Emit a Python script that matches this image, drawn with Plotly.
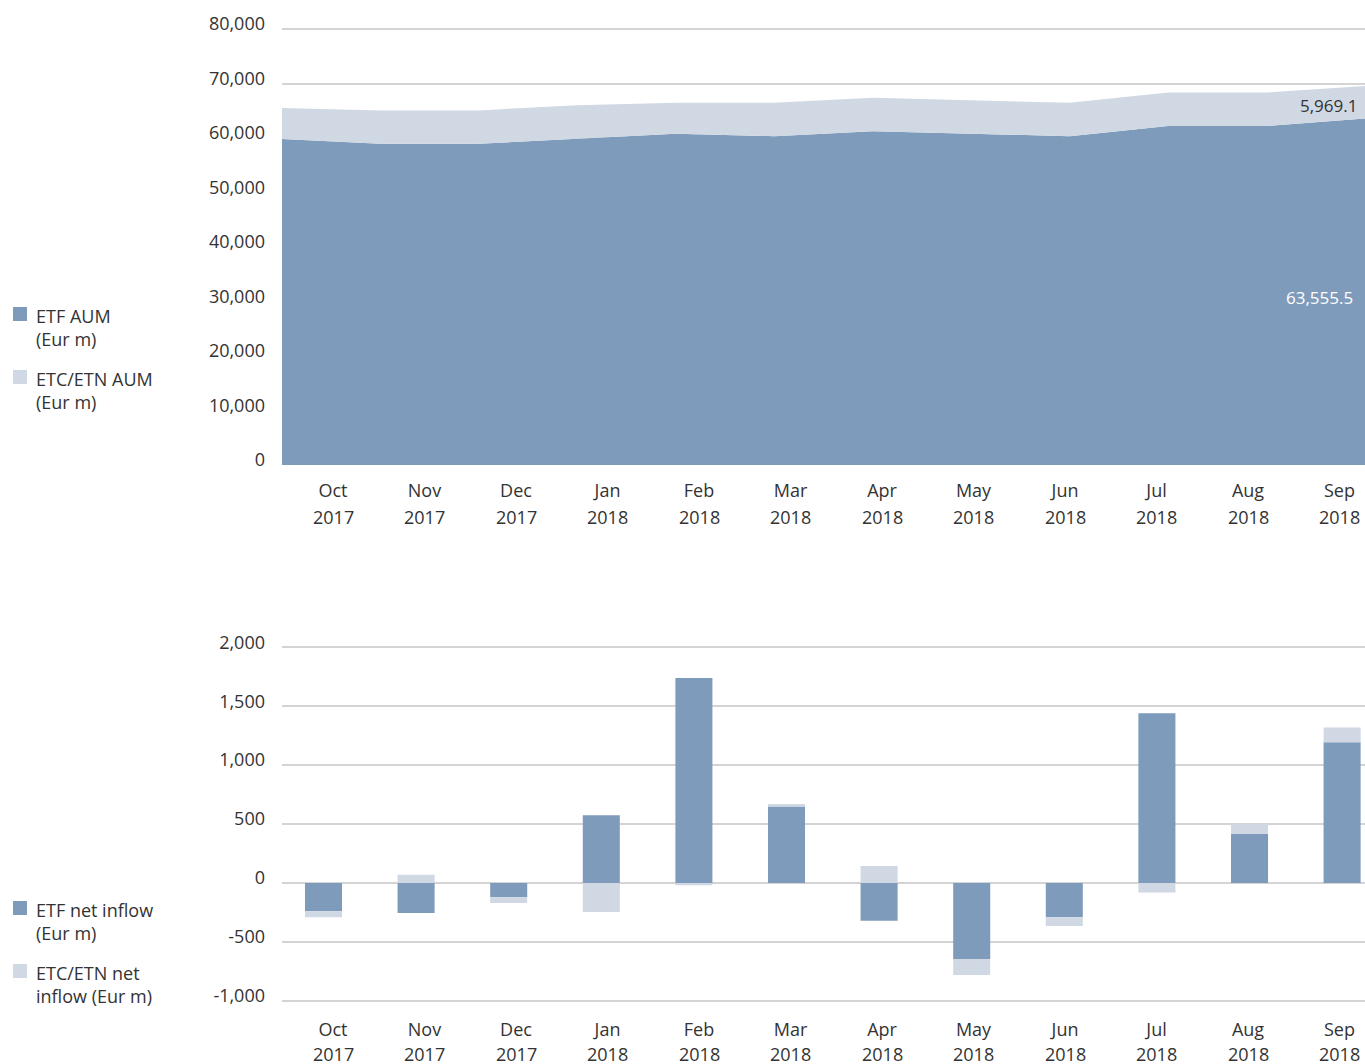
import plotly.graph_objects as go

months = ["Oct", "Nov", "Dec", "Jan", "Feb", "Mar", "Apr", "May", "Jun", "Jul", "Aug", "Sep"]
years = ["2017", "2017", "2017", "2018", "2018", "2018", "2018", "2018", "2018", "2018", "2018", "2018"]

etf_aum = [59800, 58950, 58950, 59850, 60770, 60340, 61260, 60770, 60340, 62180, 62180, 63555.5]
etc_aum = [5690, 6110, 6110, 6180, 5690, 6120, 6110, 6180, 6120, 6170, 6170, 5969.1]

etf_flow = [-240, -255, -120, 575, 1740, 650, -320, -645, -290, 1440, 415, 1195]
etc_flow = [-50, 70, -50, -245, -20, 20, 145, -135, -75, -80, 85, 125]

aum_ticks = [0, 10000, 20000, 30000, 40000, 50000, 60000, 70000, 80000]
flow_ticks = [-1000, -500, 0, 500, 1000, 1500, 2000]

C_ETF = "#7f9bbb"
C_ETC = "#cfd8e3"
GRID = "#d4d4d4"
TXT = "#333333"
FONT = "Open Sans"

W, H = 1365, 1064


def py(p):
    return (H - p) / H


def fmt(v):
    return f"{v:,d}"


fig = go.Figure()
idx = list(range(len(months)))

fig.add_trace(go.Scatter(x=idx, y=etf_aum, mode="lines", line=dict(width=0, color=C_ETF),
                         fillcolor=C_ETF, stackgroup="aum",
                         xaxis="x", yaxis="y", showlegend=False, hoverinfo="skip"))
fig.add_trace(go.Scatter(x=idx, y=etc_aum, mode="lines", line=dict(width=0, color=C_ETC),
                         fillcolor=C_ETC, stackgroup="aum",
                         xaxis="x", yaxis="y", showlegend=False, hoverinfo="skip"))

fig.add_trace(go.Bar(x=idx, y=etf_flow, marker=dict(color=C_ETF, line=dict(width=0)), width=0.4,
                     xaxis="x2", yaxis="y2", showlegend=False))
fig.add_trace(go.Bar(x=idx, y=etc_flow, marker=dict(color=C_ETC, line=dict(width=0)), width=0.4,
                     xaxis="x2", yaxis="y2", showlegend=False))

x0_px, x1_px = 282, 1365
top_step = (x1_px - x0_px) / 11
lab0, lab_step = 333, 91.5
top_tickvals = [(lab0 + lab_step * i - x0_px) / top_step for i in idx]

b0, bstep = 323.5, 92.6
bot_range = [(x0_px - b0) / bstep, (x1_px - b0) / bstep]
bot_tickvals = [(lab0 + lab_step * i - b0) / bstep for i in idx]

axis_font = dict(family=FONT, size=18, color=TXT)

top_y_dom = [py(465), py(465 - 80600 * 436 / 80000)]
bot_px_per = 0.11787
bot_y_dom = [py(883 + 1050 * bot_px_per), py(883 - 2050 * bot_px_per)]

common_x = dict(showgrid=False, zeroline=False, showline=False, ticks="", tickfont=axis_font,
                automargin=False)
common_y = dict(showgrid=True, gridcolor=GRID, gridwidth=2, zeroline=False, showline=False,
                ticks="", tickfont=axis_font, ticklabelstandoff=16, ticklabelshift=-5,
                automargin=False, layer="below traces")

fig.update_layout(
    width=W, height=H,
    margin=dict(l=0, r=0, t=0, b=0, autoexpand=False),
    paper_bgcolor="white", plot_bgcolor="white",
    barmode="relative",
    font=dict(family=FONT, size=18, color=TXT),
    xaxis=dict(domain=[x0_px / W, 1], range=[0, 11], tickvals=top_tickvals, ticktext=months,
               anchor="y", ticklabelstandoff=13, **common_x),
    yaxis=dict(domain=top_y_dom, range=[0, 80600], tickvals=aum_ticks,
               ticktext=[fmt(v) for v in aum_ticks], anchor="x", **common_y),
    xaxis2=dict(domain=[x0_px / W, 1], range=bot_range, tickvals=bot_tickvals, ticktext=months,
                anchor="y2", ticklabelstandoff=10, **common_x),
    yaxis2=dict(domain=bot_y_dom, range=[-1050, 2050], tickvals=flow_ticks,
                ticktext=[fmt(v) for v in flow_ticks], anchor="x2", **common_y),
    showlegend=False,
)

# year line of the category labels
for i in idx:
    fig.add_annotation(x=top_tickvals[i], xref="x", y=py(517), yref="paper", text=years[i],
                       showarrow=False, yanchor="middle", font=axis_font)
    fig.add_annotation(x=bot_tickvals[i], xref="x2", y=py(1054), yref="paper", text=years[i],
                       showarrow=False, yanchor="middle", font=axis_font)

# value labels on last point
fig.add_annotation(x=11, y=etf_aum[-1] + etc_aum[-1] / 2, xref="x", yref="y", yshift=-3,
                   text=f"{etc_aum[-1]:,.1f}", showarrow=False, xanchor="right", xshift=-6,
                   font=dict(family=FONT, size=17, color=TXT))
fig.add_annotation(x=11, y=etf_aum[-1] / 2, xref="x", yref="y", yshift=-6,
                   text=f"{etf_aum[-1]:,.1f}", showarrow=False, xanchor="right", xshift=-10,
                   font=dict(family=FONT, size=17, color="white"))

# legends
legend_items = [
    (314, C_ETF, "ETF AUM<br>(Eur m)"),
    (377, C_ETC, "ETC/ETN AUM<br>(Eur m)"),
    (908, C_ETF, "ETF net inflow<br>(Eur m)"),
    (971, C_ETC, "ETC/ETN net<br>inflow (Eur m)"),
]
for yc, col, txt in legend_items:
    fig.add_shape(type="rect", xref="paper", yref="paper",
                  x0=13 / W, x1=27 / W, y0=py(yc + 7), y1=py(yc - 7),
                  fillcolor=col, line=dict(width=0))
    fig.add_annotation(xref="paper", yref="paper", x=34 / W, y=py(yc - 12),
                       text=txt, showarrow=False, xanchor="left", yanchor="top", align="left",
                       font=dict(family=FONT, size=18, color=TXT))

fig.write_html("out.html", config={"displayModeBar": False},
               post_script="document.body.style.margin='0';document.body.style.overflow='hidden';")
